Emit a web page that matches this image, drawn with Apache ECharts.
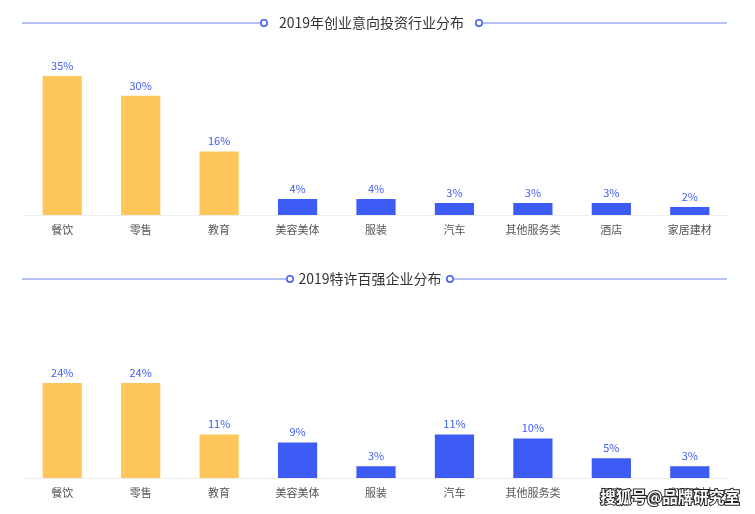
<!DOCTYPE html>
<html><head><meta charset="utf-8">
<script src="https://cdn.jsdelivr.net/npm/echarts@6/dist/echarts.min.js"></script>
<style>html,body{margin:0;padding:0;background:#fff}#c{width:755px;height:514px}</style>
</head><body><div id="c"></div>
<script>
const title1 = '2019年创业意向投资行业分布';
const title2 = '2019特许百强企业分布';
const categories1 = ['餐饮','零售','教育','美容美体','服装','汽车','其他服务类','酒店','家居建材'];
const values1 = [35,30,16,4,4,3,3,3,2];
const categories2 = ['餐饮','零售','教育','美容美体','服装','汽车','其他服务类','酒店','家居建材'];
const values2 = [24,24,11,9,3,11,10,5,3];
const highlightCount1 = 3;
const highlightCount2 = 3;
const watermark = '搜狐号@品牌研究室';

const YELLOW = '#FFC75B', BLUE = '#3D5CF5', LINE = '#6F82F0';
const FONT = '"Noto Sans CJK SC", "Noto Sans", sans-serif';

function mkData(vals, hi){ return vals.map((v,i)=>({value:v, itemStyle:{color: i<hi?YELLOW:BLUE}})); }

function titleDeco(y, cl, cr, text){
  return [
    {type:'line', shape:{x1:22,y1:y,x2:cl-3.5,y2:y}, style:{stroke:LINE,lineWidth:1.2}},
    {type:'circle', shape:{cx:cl,cy:y,r:3.2}, style:{stroke:BLUE,fill:'#fff',lineWidth:1.5}},
    {type:'text', x:(cl+cr)/2, y:y, style:{text:text, fill:'#333', font:'14px '+FONT, align:'center', verticalAlign:'middle'}},
    {type:'circle', shape:{cx:cr,cy:y,r:3.2}, style:{stroke:BLUE,fill:'#fff',lineWidth:1.5}},
    {type:'line', shape:{x1:cr+3.5,y1:y,x2:727,y2:y}, style:{stroke:LINE,lineWidth:1.2}}
  ];
}

const chart = echarts.init(document.getElementById('c'));
const axisX = (idx, cats) => ({
  type:'category', gridIndex:idx, data:cats,
  axisLine:{lineStyle:{color:'#eeeeee'}}, axisTick:{show:false},
  axisLabel:{color:'#555', fontSize:11, fontFamily:FONT, margin:9, interval:0}
});
const axisY = (idx, max) => ({type:'value', gridIndex:idx, min:0, max:max, show:false, splitLine:{show:false}});
const label = {show:true, position:'top', distance:5, color:'#3D5CF5', fontSize:11, fontFamily:FONT, formatter:'{c}%'};

chart.setOption({
  animation:false,
  grid:[
    {left:23, right:26, top:76, height:139},
    {left:23, right:26, top:383, height:95}
  ],
  xAxis:[axisX(0,categories1), axisX(1,categories2)],
  yAxis:[axisY(0,35), axisY(1,24)],
  series:[
    {type:'bar', xAxisIndex:0, yAxisIndex:0, data:mkData(values1,highlightCount1), barWidth:'50%', label:label},
    {type:'bar', xAxisIndex:1, yAxisIndex:1, data:mkData(values2,highlightCount2), barWidth:'50%', label:label}
  ],
  graphic:[].concat(
    titleDeco(23, 264, 479, title1),
    titleDeco(279, 290, 450, title2),
    [{type:'text', x:670, y:497, z:100, style:{text:watermark, fill:'#fff', stroke:'#222', lineWidth:2, font:'bold 15.5px '+FONT, align:'center', verticalAlign:'middle'}}]
  )
});
</script></body></html>
